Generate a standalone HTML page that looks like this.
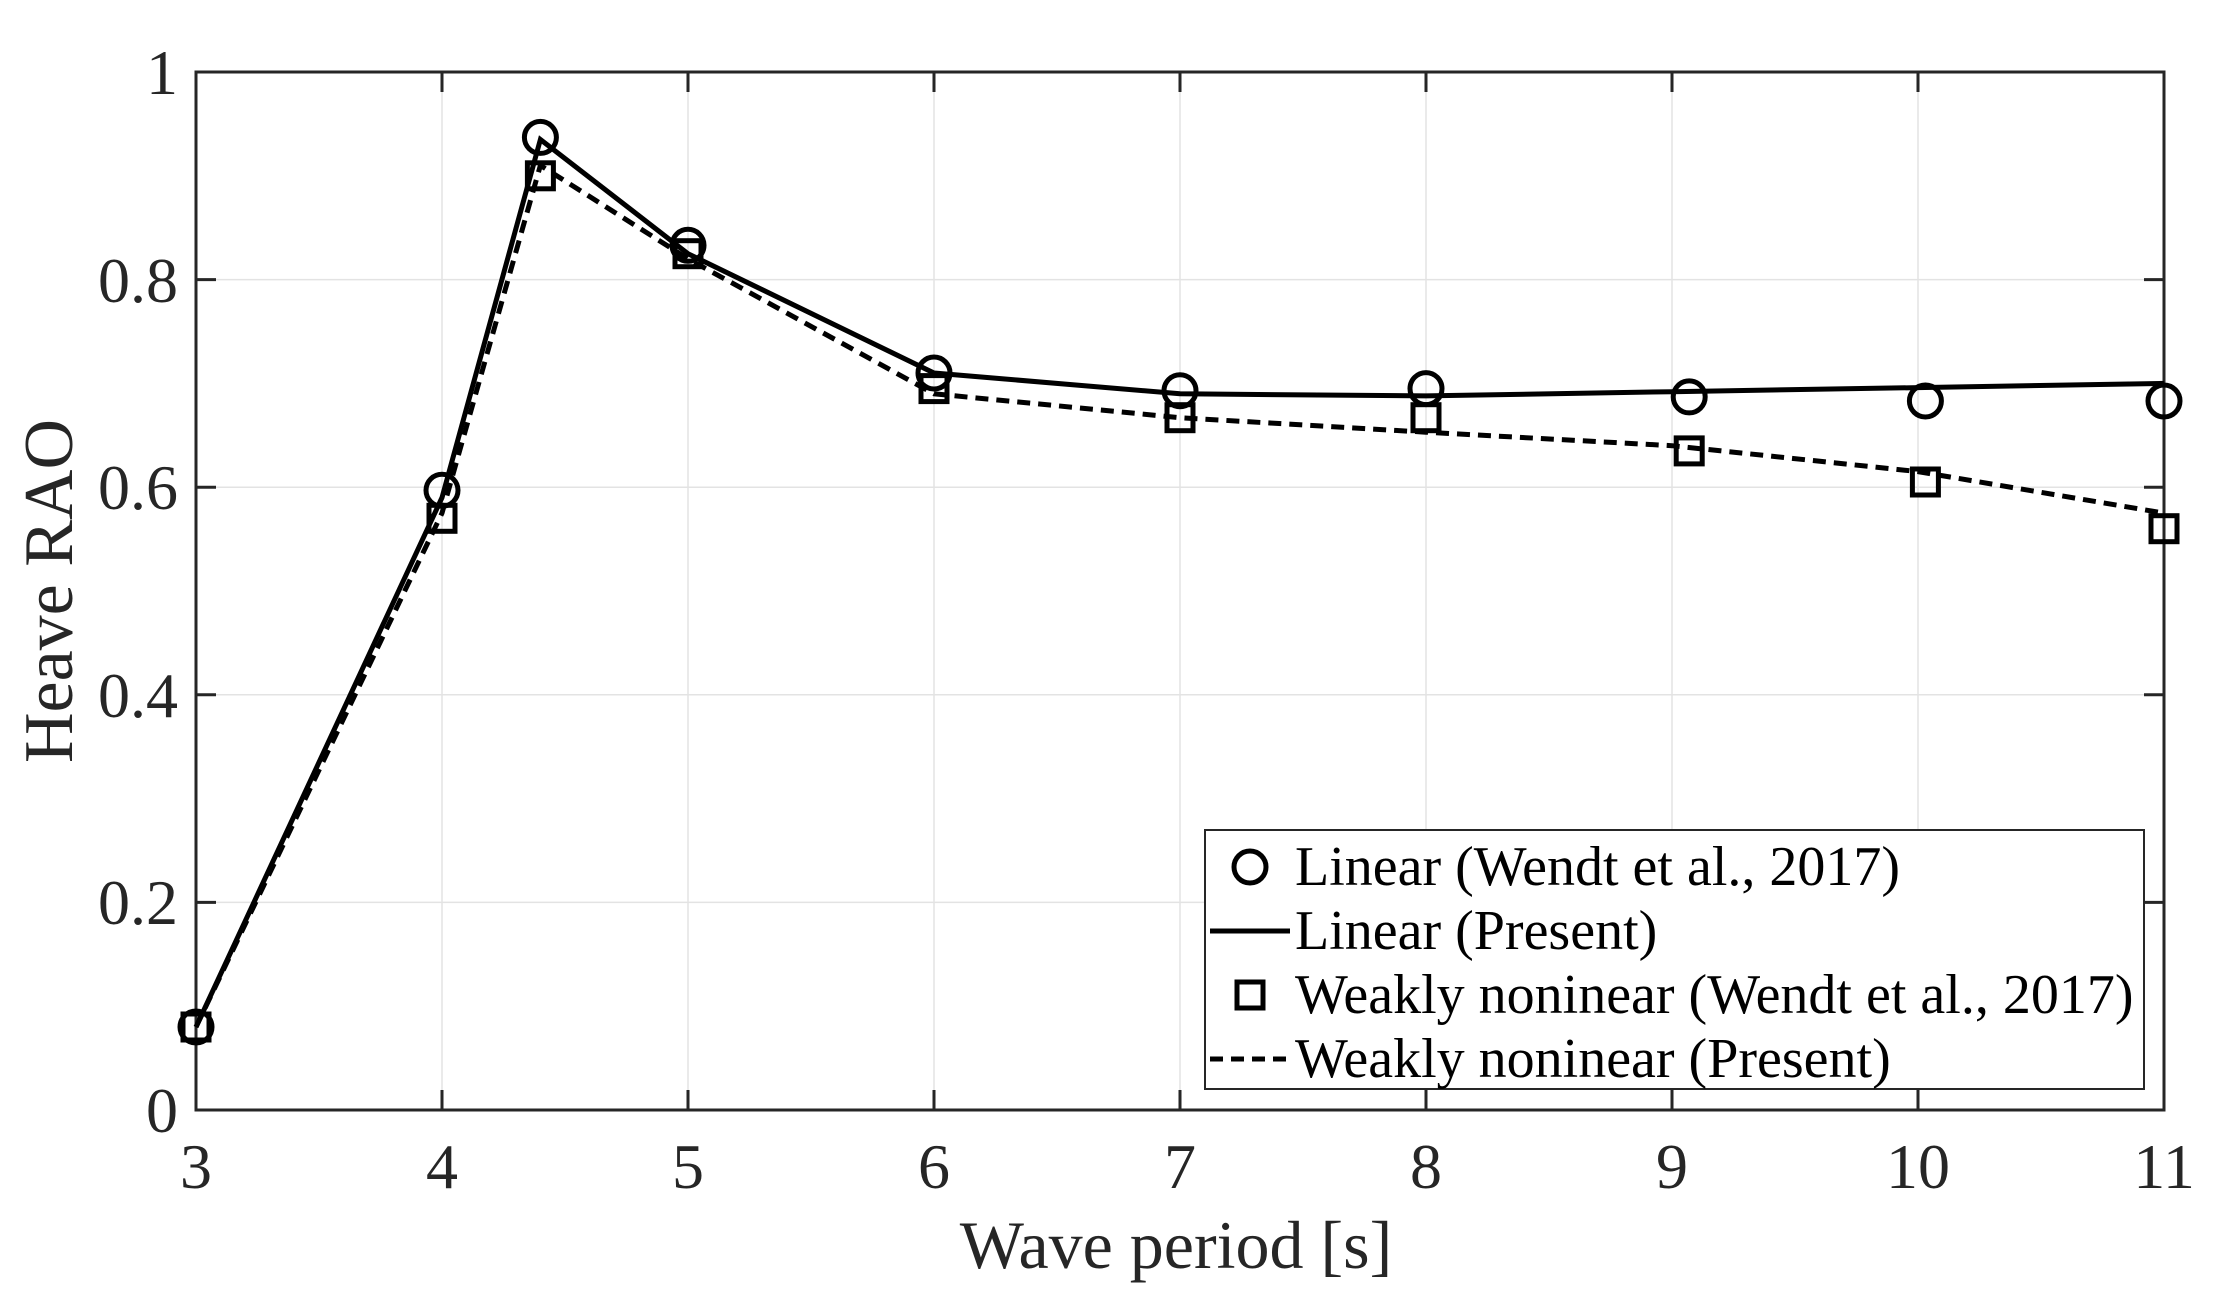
<!DOCTYPE html>
<html><head><meta charset="utf-8"><style>
html,body{margin:0;padding:0;background:#fff}
svg{display:block}
text{font-family:"Liberation Serif",serif;fill:#262626}
</style></head><body>
<svg width="2227" height="1307" viewBox="0 0 2227 1307" xmlns="http://www.w3.org/2000/svg">
<rect width="2227" height="1307" fill="#fff"/>
<g stroke="#e3e3e3" stroke-width="1.5">
<line x1="442" y1="72" x2="442" y2="1110"/><line x1="688" y1="72" x2="688" y2="1110"/>
<line x1="934" y1="72" x2="934" y2="1110"/><line x1="1180" y1="72" x2="1180" y2="1110"/>
<line x1="1426" y1="72" x2="1426" y2="1110"/><line x1="1672" y1="72" x2="1672" y2="1110"/>
<line x1="1918" y1="72" x2="1918" y2="1110"/>
<line x1="196" y1="902.4" x2="2164" y2="902.4"/><line x1="196" y1="694.8" x2="2164" y2="694.8"/>
<line x1="196" y1="487.2" x2="2164" y2="487.2"/><line x1="196" y1="279.6" x2="2164" y2="279.6"/>
</g>
<g stroke="#262626" stroke-width="3">
<rect x="196" y="72" width="1968" height="1038" fill="none"/>
<path d="M442 1110v-20M688 1110v-20M934 1110v-20M1180 1110v-20M1426 1110v-20M1672 1110v-20M1918 1110v-20
M442 72v20M688 72v20M934 72v20M1180 72v20M1426 72v20M1672 72v20M1918 72v20
M196 902.4h20M196 694.8h20M196 487.2h20M196 279.6h20
M2164 902.4h-20M2164 694.8h-20M2164 487.2h-20M2164 279.6h-20"/>
</g>
<g font-size="64" text-anchor="end">
<text x="178" y="1132">0</text><text x="178" y="924">0.2</text><text x="178" y="717">0.4</text>
<text x="178" y="509">0.6</text><text x="178" y="302">0.8</text><text x="178" y="94">1</text>
</g>
<g font-size="64" text-anchor="middle">
<text x="196" y="1188">3</text><text x="442" y="1188">4</text><text x="688" y="1188">5</text>
<text x="934" y="1188">6</text><text x="1180" y="1188">7</text><text x="1426" y="1188">8</text>
<text x="1672" y="1188">9</text><text x="1918" y="1188">10</text><text x="2164" y="1188">11</text>
</g>
<text x="1176" y="1268" font-size="68" text-anchor="middle">Wave period [s]</text>
<text transform="translate(72,591) rotate(-90)" font-size="70" text-anchor="middle">Heave RAO</text>
<g fill="none" stroke="#000" stroke-width="5">
<polyline points="196,1027 442,497.6 540.4,139.5 688,253.7 934,373 1180,393.8 1426,395.9 1672,391.7 1918,387.6 2164,383.4"/>
<polyline stroke-dasharray="13,8" points="196,1027 442,513.1 540.4,165.4 688,258.8 934,393.8 1180,417.7 1426,432.2 1672,445.7 1918,471.6 2164,513.1"/>
<g>
<circle cx="196" cy="1027" r="16"/><circle cx="442" cy="490.3" r="16"/><circle cx="540.4" cy="137.4" r="16"/>
<circle cx="688" cy="245.3" r="16"/><circle cx="934" cy="373" r="16"/><circle cx="1180" cy="390.7" r="16"/>
<circle cx="1426" cy="388.6" r="16"/><circle cx="1689.2" cy="396.9" r="16"/><circle cx="1925.4" cy="401" r="16"/>
<circle cx="2164" cy="401" r="16"/>
</g>
<g>
<rect x="183" y="1014" width="26" height="26"/><rect x="429" y="505.3" width="26" height="26"/>
<rect x="527.4" y="162.8" width="26" height="26"/><rect x="675" y="240.7" width="26" height="26"/>
<rect x="921" y="375.6" width="26" height="26"/><rect x="1167" y="404.7" width="26" height="26"/>
<rect x="1413" y="404.7" width="26" height="26"/><rect x="1676.2" y="437.9" width="26" height="26"/>
<rect x="1912.4" y="469" width="26" height="26"/><rect x="2151" y="515.7" width="26" height="26"/>
</g>
</g>
<rect x="1205" y="830" width="939" height="259" fill="#fff" stroke="#262626" stroke-width="2"/>
<g fill="none" stroke="#000" stroke-width="5">
<circle cx="1250" cy="867" r="16"/>
<line x1="1210" y1="931" x2="1290" y2="931"/>
<rect x="1237" y="982" width="26" height="26"/>
<line x1="1210" y1="1059" x2="1290" y2="1059" stroke-dasharray="13,8"/>
</g>
<g font-size="56">
<text x="1295" y="885" style="fill:#000">Linear (Wendt et al., 2017)</text>
<text x="1295" y="949" style="fill:#000">Linear (Present)</text>
<text x="1295" y="1013" style="fill:#000">Weakly noninear (Wendt et al., 2017)</text>
<text x="1295" y="1077" style="fill:#000">Weakly noninear (Present)</text>
</g>
</svg>
</body></html>
